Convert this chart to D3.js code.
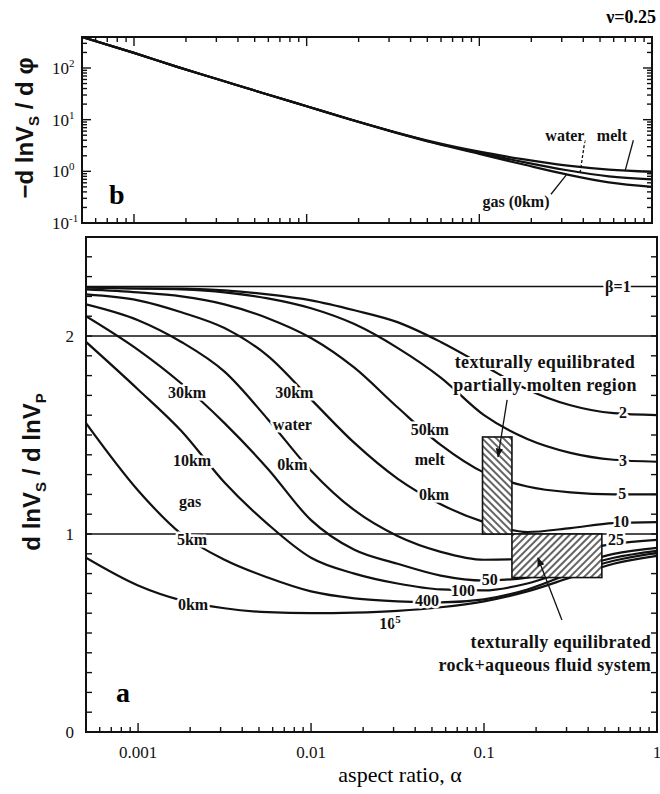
<!DOCTYPE html>
<meta charset="utf-8">
<style>
body { margin: 0; background: #fff; }
svg { font-family: "Liberation Serif", "Times New Roman", serif; }
.frame { fill: none; stroke: #111; stroke-width: 2; }
.tick { stroke: #111; stroke-width: 1.4; }
.curve { fill: none; stroke: #111; stroke-width: 2.2; }
.ref { stroke: #111; stroke-width: 1.3; }
.lab { font-size: 16px; font-weight: bold; fill: #111; stroke: #fff; stroke-width: 5px; paint-order: stroke; stroke-linejoin: round; }
.note { font-size: 18px; font-weight: bold; letter-spacing: 0.3px; fill: #111; stroke: #fff; stroke-width: 4px; paint-order: stroke; }
.tl { font-size: 17px; fill: #111; }
.ytitle { font-family: "Liberation Sans", Arial, sans-serif; font-weight: bold; font-size: 24px; fill: #111; }
</style>
<body>
<script src="https://d3js.org/d3.v7.min.js"></script>
<script>
// aspect ratio grid where the curves were read
var alpha = [0.0005, 0.001, 0.00178, 0.00316, 0.00562, 0.01, 0.0178, 0.0316, 0.0562, 0.1, 0.178, 0.316, 0.562, 1];

// panel b : -dlnVs/dphi
var bMelt  = [398, 196, 105, 58.5, 32.5, 18.2, 10.2, 5.9, 3.6, 2.4, 1.72, 1.3, 1.08, 0.98];
var bWater = [398, 196, 105, 58.5, 32.5, 18.2, 10.2, 5.85, 3.5, 2.28, 1.52, 1.06, 0.8, 0.70];
var bGas   = [398, 196, 105, 58.5, 32.5, 18.2, 10.1, 5.8, 3.45, 2.17, 1.37, 0.88, 0.61, 0.50];

// panel a : dlnVs/dlnVp for several beta
var a2   = [2.245, 2.24, 2.24, 2.23, 2.21, 2.18, 2.13, 2.07, 1.97, 1.85, 1.73, 1.65, 1.61, 1.60];
var a3   = [2.245, 2.24, 2.235, 2.22, 2.19, 2.14, 2.06, 1.94, 1.79, 1.60, 1.48, 1.41, 1.375, 1.365];
var a5   = [2.235, 2.22, 2.20, 2.16, 2.09, 1.99, 1.84, 1.64, 1.45, 1.31, 1.24, 1.21, 1.20, 1.20];
var a10  = [2.21, 2.18, 2.12, 2.04, 1.90, 1.68, 1.46, 1.28, 1.15, 1.06, 1.01, 1.03, 1.055, 1.06];
var a25  = [2.16, 2.08, 1.97, 1.82, 1.58, 1.32, 1.12, 0.99, 0.91, 0.87, 0.875, 0.91, 0.95, 0.97];
var a50  = [2.10, 1.93, 1.76, 1.56, 1.33, 1.07, 0.92, 0.85, 0.79, 0.765, 0.78, 0.84, 0.90, 0.93];
var a100 = [1.97, 1.73, 1.52, 1.26, 1.05, 0.88, 0.80, 0.75, 0.72, 0.715, 0.75, 0.82, 0.88, 0.915];
var a400 = [1.56, 1.22, 1.00, 0.87, 0.78, 0.71, 0.675, 0.66, 0.655, 0.67, 0.72, 0.80, 0.865, 0.905];
var a1e5 = [0.88, 0.74, 0.665, 0.625, 0.605, 0.60, 0.603, 0.612, 0.63, 0.66, 0.71, 0.78, 0.85, 0.89];
var beta1 = 2.25;
var refLines = [1, 2];

// hatched regions [alpha0, alpha1, v0, v1]
var meltBox = [0.098, 0.145, 1.0, 1.49];
var rockBox = [0.145, 0.48, 0.78, 1.0];

// tick labels
var xTickLabels = [[0.001, "0.001"], [0.01, "0.01"], [0.1, "0.1"], [1, "1"]];
var yBotLabels = [0, 1, 2];
var yTopExp = [-1, 0, 1, 2];

// curve labels in panel a : [alpha, value, text]
var curveLabels = [
  [0.594, 2.25, "β=1"], [0.635, 1.61, "2"], [0.635, 1.37, "3"], [0.63, 1.20, "5"],
  [0.62, 1.06, "10"], [0.58, 0.97, "25"], [0.108, 0.77, "50"], [0.0755, 0.71, "100"],
  [0.0468, 0.66, "400"],
  [0.00192, 1.71, "30km"], [0.00205, 1.37, "10km"], [0.0020, 1.16, "gas"], [0.00205, 0.97, "5km"], [0.00208, 0.64, "0km"],
  [0.0080, 1.71, "30km"], [0.0078, 1.55, "water"], [0.0078, 1.35, "0km"],
  [0.0486, 1.525, "50km"], [0.0486, 1.374, "melt"], [0.0514, 1.197, "0km"]
];

var svg = d3.select("body").append("svg").attr("width", 660).attr("height", 794);

var xTop = d3.scaleLog().domain([0.0005, 1]).range([82, 652]);
var yTop = d3.scaleLog().domain([0.1, 398]).range([223, 37]);
var xBot = d3.scaleLog().domain([0.0005, 1]).range([86, 657]);
var yBot = d3.scaleLinear().domain([0, 2.5]).range([732, 237]);

var defs = svg.append("defs");
defs.append("clipPath").attr("id", "clipTop").append("rect")
  .attr("x", 82).attr("y", 37).attr("width", 570).attr("height", 186);
defs.append("clipPath").attr("id", "clipBot").append("rect")
  .attr("x", 86).attr("y", 237).attr("width", 571).attr("height", 495);

function hatch(id, angle) {
  var p = defs.append("pattern").attr("id", id).attr("patternUnits", "userSpaceOnUse")
    .attr("width", 5).attr("height", 5).attr("patternTransform", "rotate(" + angle + ")");
  p.append("rect").attr("width", 5).attr("height", 5).attr("fill", "#fff");
  p.append("line").attr("x1", 1).attr("y1", 0).attr("x2", 1).attr("y2", 5)
    .attr("stroke", "#111").attr("stroke-width", 1.3);
}
hatch("hatchMelt", -45);
hatch("hatchRock", 45);

defs.append("marker").attr("id", "arrow").attr("viewBox", "0 0 10 10")
  .attr("refX", 9).attr("refY", 5).attr("markerWidth", 7).attr("markerHeight", 7)
  .attr("orient", "auto").append("path").attr("d", "M0,1L10,5L0,9Z").attr("fill", "#111");

// minor tick values for log axes
function logTicks(lo, hi) {
  var out = [];
  for (var e = -4; e <= 3; e++) for (var m = 1; m <= 9; m++) {
    var v = m * Math.pow(10, e);
    if (v >= lo * 0.999 && v <= hi * 1.001) out.push(v);
  }
  return out;
}
var xTicks = logTicks(0.0005, 1);

function isDecade(d) { return Math.abs(Math.log10(d) - Math.round(Math.log10(d))) < 1e-6; }

function xTickMarks(x, yEdge, dir) {
  svg.append("g").selectAll("line").data(xTicks).join("line")
    .attr("class", "tick")
    .attr("x1", d => x(d)).attr("x2", d => x(d))
    .attr("y1", yEdge)
    .attr("y2", d => yEdge + dir * (isDecade(d) ? 9 : 5));
}

// ---------- panel b ----------
var lineTop = d3.line().x((d, i) => xTop(alpha[i])).y(d => yTop(d)).curve(d3.curveMonotoneX);
var gTop = svg.append("g").attr("clip-path", "url(#clipTop)");
[bGas, bWater, bMelt].forEach(function(s) {
  gTop.append("path").datum(s).attr("class", "curve").attr("stroke-width", 2.4).attr("d", lineTop);
});

var yTopTicks = logTicks(0.1, 398);
[[82, 1], [652, -1]].forEach(function(s) {
  svg.append("g").selectAll("line").data(yTopTicks).join("line")
    .attr("class", "tick")
    .attr("y1", d => yTop(d)).attr("y2", d => yTop(d)).attr("x1", s[0])
    .attr("x2", d => s[0] + s[1] * (isDecade(d) ? 9 : 5));
});
xTickMarks(xTop, 223, -1);
xTickMarks(xTop, 37, 1);
svg.append("rect").attr("class", "frame").attr("x", 82).attr("y", 37).attr("width", 570).attr("height", 186);

yTopExp.forEach(function(e) {
  var t = svg.append("text").attr("class", "tl").attr("x", 52).attr("y", yTop(Math.pow(10, e)) + 6);
  t.append("tspan").text("10");
  t.append("tspan").attr("dy", -7).attr("font-size", 11).text(e < 0 ? "-" + (-e) : e);
});

// leaders + labels in panel b
var topNotes = [[0.313, 4.83, "water"], [0.586, 4.83, "melt"], [0.163, 0.255, "gas (0km)"]];
svg.append("line").attr("class", "ref").attr("stroke-dasharray", "3,2")
  .attr("x1", xTop(0.409)).attr("y1", yTop(4.0)).attr("x2", xTop(0.383)).attr("y2", yTop(0.92));
svg.append("line").attr("class", "ref")
  .attr("x1", xTop(0.78)).attr("y1", yTop(4.0)).attr("x2", xTop(0.70)).attr("y2", yTop(1.04));
svg.append("line").attr("class", "ref")
  .attr("x1", xTop(0.26)).attr("y1", yTop(0.36)).attr("x2", xTop(0.32)).attr("y2", yTop(0.86));
topNotes.forEach(function(d) {
  svg.append("text").attr("class", "lab").attr("text-anchor", "middle")
    .attr("x", xTop(d[0])).attr("y", yTop(d[1]) + 5).text(d[2]);
});
svg.append("text").attr("x", 109).attr("y", 204).attr("font-size", 28).attr("font-weight", "bold").text("b");
svg.append("text").attr("x", 656).attr("y", 23).attr("text-anchor", "end")
  .attr("font-size", 18).attr("font-weight", "bold").text("ν=0.25");

var tTop = svg.append("text").attr("class", "ytitle").attr("text-anchor", "middle")
  .attr("transform", "translate(33,128) rotate(-90)");
tTop.append("tspan").text("−d lnV");
tTop.append("tspan").attr("dy", 6).attr("font-size", 15).text("S");
tTop.append("tspan").attr("dy", -6).text(" / d φ");

// ---------- panel a ----------
var gBot = svg.append("g").attr("clip-path", "url(#clipBot)");
refLines.forEach(function(v) {
  gBot.append("line").attr("class", "ref").attr("x1", 86).attr("x2", 657)
    .attr("y1", yBot(v)).attr("y2", yBot(v));
});
gBot.append("line").attr("class", "ref").attr("stroke-width", 1.6).attr("x1", 86).attr("x2", 657)
  .attr("y1", yBot(beta1)).attr("y2", yBot(beta1));

var lineBot = d3.line().x((d, i) => xBot(alpha[i])).y(d => yBot(d)).curve(d3.curveMonotoneX);
[a2, a3, a5, a10, a25, a50, a100, a400, a1e5].forEach(function(s) {
  gBot.append("path").datum(s).attr("class", "curve").attr("d", lineBot);
});

// hatched boxes
[[meltBox, "hatchMelt"], [rockBox, "hatchRock"]].forEach(function(b) {
  var r = b[0];
  svg.append("rect").attr("x", xBot(r[0])).attr("y", yBot(r[3]))
    .attr("width", xBot(r[1]) - xBot(r[0])).attr("height", yBot(r[2]) - yBot(r[3]))
    .attr("fill", "url(#" + b[1] + ")").attr("stroke", "#111").attr("stroke-width", 1.6);
});

// labels on curves
curveLabels.forEach(function(d) {
  svg.append("text").attr("class", "lab").attr("text-anchor", "middle")
    .attr("x", xBot(d[0])).attr("y", yBot(d[1]) + 5).text(d[2]);
});
var t5 = svg.append("text").attr("class", "lab").attr("text-anchor", "middle")
  .attr("x", xBot(0.0286)).attr("y", yBot(0.545) + 5);
t5.append("tspan").text("10");
t5.append("tspan").attr("dy", -6).attr("font-size", 11).text("5");

// notes and arrows
function note(lines, x, y, anchor) {
  lines.forEach(function(s, i) {
    svg.append("text").attr("class", "note").attr("text-anchor", anchor)
      .attr("x", x).attr("y", y + i * 23).text(s);
  });
}
note(["texturally equilibrated", "partially molten region"], 545, 368, "middle");
note(["texturally equilibrated", "rock+aqueous fluid system"], 651, 648, "end");

svg.append("line").attr("class", "ref").attr("stroke-width", 1.6).attr("marker-end", "url(#arrow)")
  .attr("x1", xBot(0.136)).attr("y1", yBot(1.677)).attr("x2", xBot(0.1205)).attr("y2", yBot(1.39));
svg.append("line").attr("class", "ref").attr("stroke-width", 1.6).attr("marker-end", "url(#arrow)")
  .attr("x1", xBot(0.282)).attr("y1", yBot(0.566)).attr("x2", xBot(0.205)).attr("y2", yBot(0.879));

// ticks
var yBotTicks = d3.range(0, 2.51, 0.1);
[[86, 1], [657, -1]].forEach(function(s) {
  svg.append("g").selectAll("line").data(yBotTicks).join("line").attr("class", "tick")
    .attr("x1", s[0]).attr("x2", s[0] + s[1] * 6)
    .attr("y1", d => yBot(d)).attr("y2", d => yBot(d));
});
xTickMarks(xBot, 732, -1);
svg.append("rect").attr("class", "frame").attr("x", 86).attr("y", 237).attr("width", 571).attr("height", 495);

yBotLabels.forEach(function(v) {
  svg.append("text").attr("class", "tl").attr("x", 74).attr("y", yBot(v) + 6)
    .attr("text-anchor", "end").text(v);
});
xTickLabels.forEach(function(d) {
  svg.append("text").attr("class", "tl").attr("x", xBot(d[0])).attr("y", 758)
    .attr("text-anchor", "middle").text(d[1]);
});
svg.append("text").attr("x", 116).attr("y", 702).attr("font-size", 28).attr("font-weight", "bold").text("a");

svg.append("text").attr("x", 400).attr("y", 782).attr("text-anchor", "middle")
  .attr("font-size", 22).text("aspect ratio,  α");

var tBot = svg.append("text").attr("class", "ytitle").attr("text-anchor", "middle")
  .attr("transform", "translate(40,472) rotate(-90)");
tBot.append("tspan").text("d lnV");
tBot.append("tspan").attr("dy", 6).attr("font-size", 15).text("S");
tBot.append("tspan").attr("dy", -6).text(" / d lnV");
tBot.append("tspan").attr("dy", 6).attr("font-size", 15).text("P");
</script>
</body>
